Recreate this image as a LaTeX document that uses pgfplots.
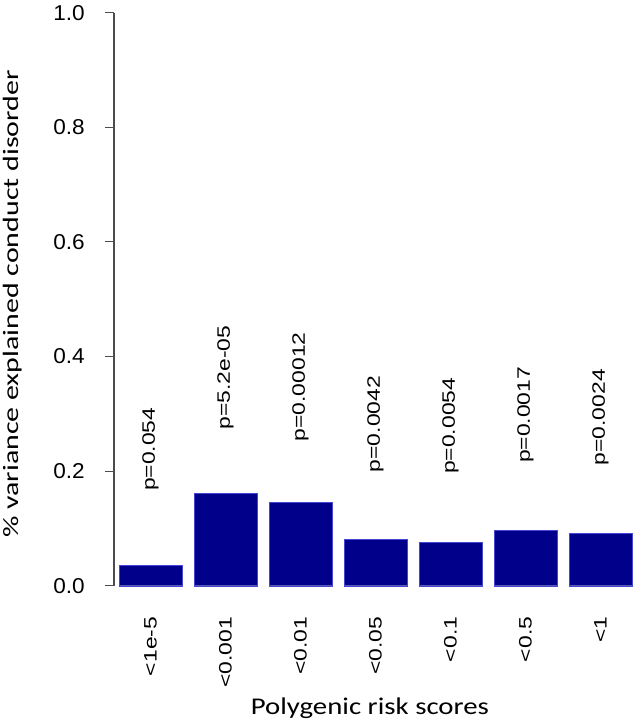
\documentclass[border=0pt]{standalone}
\usepackage{pgfplots}
\pgfplotsset{compat=1.18}
\usepackage{fontspec}
\setmainfont{Liberation Sans}
\newfontfamily\carlito{Carlito}
\definecolor{barblue}{RGB}{0,0,139}
\definecolor{baredge}{RGB}{70,70,210}
\newcommand\rl[1]{\scalebox{1.27}[1]{#1}}
\newcommand\pf{\fontsize{18}{18}\selectfont}
\begin{document}
\begin{tikzpicture}
\begin{axis}[
  at={(0pt,0pt)}, anchor=south west, scale only axis,
  width=518pt, height=573pt,
  xmin=0.513, xmax=7.42, ymin=0, ymax=1,
  axis y line*=left, axis x line*=bottom,
  x axis line style={draw=none},
  y axis line style={black!70, line width=1.2pt},
  ytick={0,0.2,0.4,0.6,0.8,1},
  tick align=outside, major tick length=9pt,
  ytick style={black!70, line width=1.2pt},
  /pgf/number format/.cd, fixed, fixed zerofill, precision=1, assume math mode=true, /pgfplots/.cd,
  yticklabel={\scalebox{1.05}[1]{\pgfmathprintnumber{\tick}}},
  yticklabel style={font=\fontsize{21.5}{21.5}\selectfont, anchor=east, inner sep=0pt},
  yticklabel shift=20pt,
  xtick={1,2,3,4,5,6,7},
  xticklabels={\rl{<1e-5},\rl{<0.001},\rl{<0.01},\rl{<0.05},\rl{<0.1},\rl{<0.5},\rl{<1}},
  xtick style={draw=none},
  xticklabel style={rotate=90, anchor=east, inner sep=0pt, font=\pf},
  xticklabel shift=22pt,
  clip=false,
  ylabel={\scalebox{1.36}[1]{\% variance explained conduct disorder}},
  ylabel style={at={(axis description cs:-0.196,0.4916)}, anchor=center, font=\carlito\fontsize{22}{22}\selectfont},
  xlabel={\scalebox{1.2}[1]{Polygenic risk scores}},
  xlabel style={at={(axis description cs:0.494,-0.2134)}, anchor=center, font=\carlito\fontsize{24}{24}\selectfont},
]
\addplot[ybar, bar width=63pt, fill=barblue, draw=baredge, line width=0.4pt]
  coordinates {(1,0.036) (2,0.161) (3,0.146) (4,0.081) (5,0.076) (6,0.097) (7,0.091)};
\node[rotate=90, font=\pf, inner sep=0pt] at (axis cs:1,0.238) {\rl{p=0.054}};
\node[rotate=90, font=\pf, inner sep=0pt] at (axis cs:2,0.363) {\rl{p=5.2e-05}};
\node[rotate=90, font=\pf, inner sep=0pt] at (axis cs:3,0.347) {\rl{p=0.00012}};
\node[rotate=90, font=\pf, inner sep=0pt] at (axis cs:4,0.282) {\rl{p=0.0042}};
\node[rotate=90, font=\pf, inner sep=0pt] at (axis cs:5,0.279) {\rl{p=0.0054}};
\node[rotate=90, font=\pf, inner sep=0pt] at (axis cs:6,0.298) {\rl{p=0.0017}};
\node[rotate=90, font=\pf, inner sep=0pt] at (axis cs:7,0.294) {\rl{p=0.0024}};
\end{axis}
\pgfresetboundingbox
\path[use as bounding box] (-114pt,-137.3pt) rectangle (518pt,585.7pt);
\end{tikzpicture}
\end{document}
